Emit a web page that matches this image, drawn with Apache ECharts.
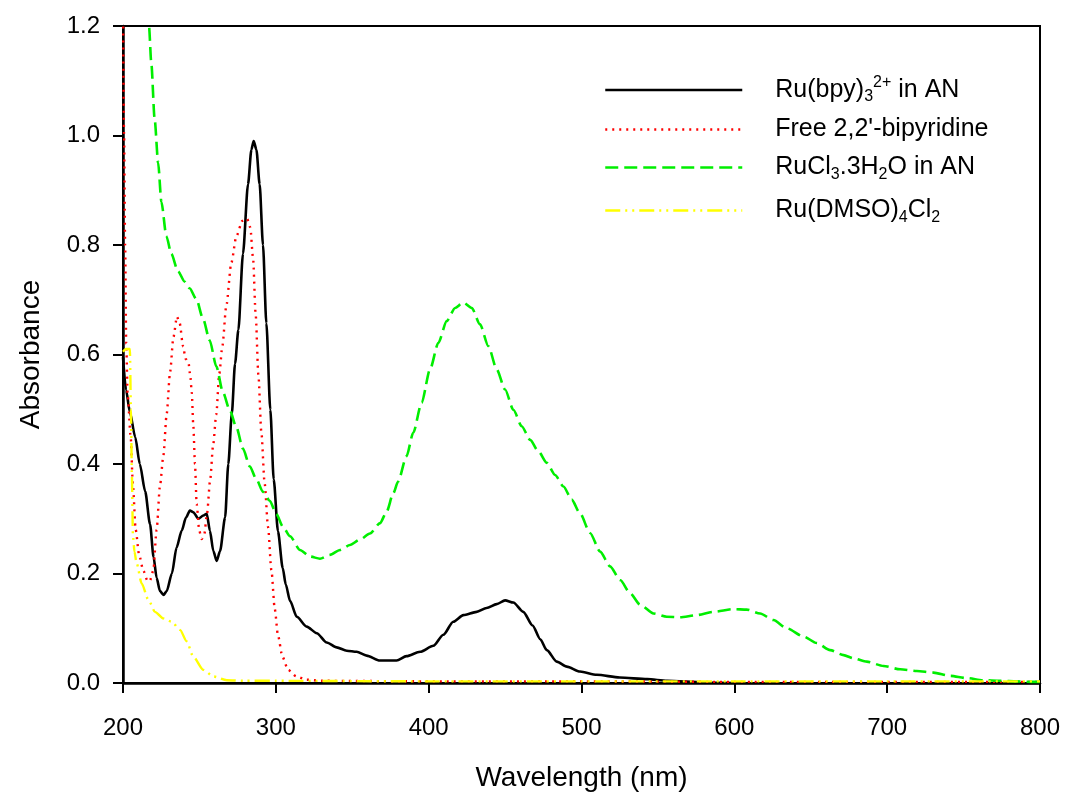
<!DOCTYPE html>
<html>
<head>
<meta charset="utf-8">
<script src="https://cdn.jsdelivr.net/npm/echarts@6/dist/echarts.min.js"></script>
<style>
  html, body { margin: 0; padding: 0; background: #fff; }
  #chart { width: 1065px; height: 794px; }
</style>
</head>
<body>
<div id="chart"></div>
<script>
// ---- Data ----
const seriesNames = ["Ru(bpy)3 2+ in AN", "Free 2,2'-bipyridine", "RuCl3.3H2O in AN", "Ru(DMSO)4Cl2"];
const legendLabels = [
  "{n|Ru(bpy)}{sub|3}{sup|2+}{n| in AN}",
  "{n|Free 2,2'-bipyridine}",
  "{n|RuCl}{sub|3}{n|.3H}{sub|2}{n|O in AN}",
  "{n|Ru(DMSO)}{sub|4}{n|Cl}{sub|2}"
];
const seriesColors = ["#000000", "#ff0000", "#00ee00", "#ffff00"];

// Ru(bpy)3 2+ in AN
const wlBpyComplex = [200,202,204.5,208,211,214.5,217.7,220,222,224.2,226.5,228.6,232,235,238.4,241.2,243.8,246,249.3,252.6,254.8,256.9,259.1,261.3,263.5,266.8,268.9,271.2,273.3,275.5,278.5,281.8,284,285.5,287.3,289.4,291.6,293.8,296.4,298.6,301.4,304.5,306.5,309.3,313.7,320.2,326.8,333.3,339.8,346.4,352.9,359.4,368.1,379,385.5,394.4,403.1,409.6,416.1,422.7,431.4,437.9,444.5,450,455.4,461.9,468,473,477.3,483.8,490.4,499,510,525,543,556,580,620,700,800];
const absBpyComplex = [0.595,0.535,0.495,0.449,0.40,0.35,0.29,0.23,0.192,0.168,0.161,0.168,0.20,0.247,0.278,0.302,0.315,0.312,0.300,0.306,0.309,0.278,0.241,0.223,0.241,0.302,0.40,0.492,0.583,0.645,0.784,0.911,0.974,0.99,0.974,0.911,0.80,0.657,0.499,0.372,0.277,0.21,0.180,0.150,0.121,0.103,0.091,0.074,0.065,0.059,0.057,0.050,0.041,0.041,0.049,0.057,0.068,0.088,0.112,0.124,0.130,0.137,0.144,0.151,0.147,0.130,0.105,0.080,0.060,0.039,0.030,0.021,0.015,0.010,0.007,0.004,0.001,-0.001,-0.002,-0.002];

// Free 2,2'-bipyridine
const wlBipyridine = [200,200.7,201.4,202.1,203,205,206.5,208.3,210.5,213.3,216,217.5,219.8,222,224.2,226.4,228.6,230.8,233,235.3,237.1,239.3,241,242.8,244,245,246,247.1,248.2,249.9,251.5,253.2,255,257,259,261,263,265,267.6,270.9,274.2,278.1,281.2,283.3,285.1,286.8,288.6,290.5,292.7,294.9,297.1,299.3,301.4,304.3,308,313.4,320,330,400,500,600,700,800];
const absBipyridine = [1.25,1.0,0.8,0.62,0.53,0.45,0.36,0.28,0.235,0.205,0.187,0.186,0.205,0.28,0.36,0.415,0.492,0.568,0.632,0.669,0.657,0.615,0.592,0.586,0.562,0.53,0.47,0.40,0.327,0.278,0.263,0.272,0.31,0.37,0.435,0.49,0.565,0.615,0.689,0.768,0.816,0.844,0.848,0.832,0.776,0.673,0.562,0.459,0.364,0.285,0.206,0.135,0.087,0.048,0.024,0.012,0.006,0.004,0.003,0.003,0.002,0.002,0.002];

// RuCl3.3H2O in AN
const wlRuCl3 = [214,217,218.5,220.7,223,225.1,228.4,231.6,236,240.4,243.6,248,252.4,256.7,261.1,265.4,269.8,274.2,278.5,282.9,287.3,291.6,296,300.3,304.7,309.3,315.8,322.4,328.9,335.4,342,348.5,355.1,361.6,368.2,372.5,376.9,380,385.5,389.9,395.4,400.9,406.3,411.8,417.3,422.7,428.2,433.6,439.1,444.5,450,455.4,460.9,466.4,471.8,477.3,482.7,488.2,493.6,499,505.6,512.2,518.7,525.3,531.8,538.4,547.1,555.8,564.5,575.4,586.3,599.4,608.1,616.9,625.6,634.3,645.2,653.9,662.7,671.5,678,686.7,697.6,708.5,719.4,730.3,741.2,752.1,763,774,785,796,800];
const absRuCl3 = [1.30,1.2,1.133,1.03,0.95,0.879,0.816,0.784,0.752,0.733,0.721,0.701,0.665,0.626,0.578,0.531,0.499,0.467,0.428,0.396,0.372,0.349,0.333,0.309,0.285,0.268,0.243,0.231,0.227,0.234,0.243,0.252,0.262,0.273,0.292,0.313,0.347,0.368,0.414,0.457,0.512,0.573,0.621,0.661,0.685,0.695,0.685,0.655,0.615,0.573,0.536,0.499,0.469,0.444,0.423,0.402,0.380,0.359,0.335,0.310,0.274,0.240,0.213,0.188,0.164,0.143,0.127,0.121,0.120,0.124,0.130,0.135,0.134,0.127,0.115,0.100,0.085,0.073,0.060,0.051,0.045,0.039,0.031,0.025,0.022,0.019,0.013,0.009,0.005,0.004,0.003,0.002,0.002];

// Ru(DMSO)4Cl2
const wlRuDmso = [200,202,204.5,205.2,205.8,206.5,207.5,208.9,212.2,216.6,220.9,226.4,231.9,237.3,241.7,246,252.6,259.1,267.9,278.7,300,400,500,600,700,800];
const absRuDmso = [0.605,0.61,0.61,0.5,0.38,0.27,0.24,0.219,0.182,0.152,0.130,0.118,0.112,0.097,0.076,0.048,0.024,0.012,0.005,0.004,0.004,0.003,0.003,0.003,0.003,0.003];

const xTicks = { min: 200, max: 800, step: 100 };
const yTicks = { min: 0, max: 1.2, step: 0.2 };

// ---- Build chart ----
function zip(xs, ys) {
  const n = Math.min(xs.length, ys.length);
  const out = [];
  for (let i = 0; i < n; i++) out.push([xs[i], ys[i]]);
  return out;
}
const FONT = "'Liberation Sans', Arial, sans-serif";
const lineTypes = ['solid', [2, 5], [13, 6], [15, 5, 2, 5, 2, 5]];
const allData = [
  zip(wlBpyComplex, absBpyComplex),
  zip(wlBipyridine, absBipyridine),
  zip(wlRuCl3, absRuCl3),
  zip(wlRuDmso, absRuDmso)
];
const widths = [2.6, 2.4, 2.6, 2.4];

const series = seriesNames.map((name, i) => ({
  name: name,
  type: 'line',
  data: allData[i],
  symbol: 'none',
  smooth: 0.25,
  smoothMonotone: 'x',
  clip: true,
  color: seriesColors[i],
  lineStyle: { color: seriesColors[i], width: widths[i], type: lineTypes[i] },
  z: 2 + i
}));

const legendLineY = [90, 132, 170, 213];
const rich = {
  n: { fontSize: 25, fontFamily: FONT, color: '#000', lineHeight: 30 },
  sub: { fontSize: 16, fontFamily: FONT, color: '#000', lineHeight: 16, verticalAlign: 'bottom' },
  sup: { fontSize: 16, fontFamily: FONT, color: '#000', lineHeight: 16, verticalAlign: 'top' }
};
const legends = seriesNames.map((name, i) => ({
  data: [name],
  left: 604,
  top: legendLineY[i] - 15,
  padding: 0,
  orient: 'vertical',
  itemWidth: 137,
  itemHeight: 14,
  selectedMode: false,
  itemStyle: { opacity: 0 },
  lineStyle: { width: 2.5 },
  formatter: () => legendLabels[i],
  textStyle: { fontSize: 25, fontFamily: FONT, color: '#000', padding: [0, 0, 0, 28], rich: rich }
}));

const chart = echarts.init(document.getElementById('chart'), null, { renderer: 'canvas' });
chart.setOption({
  animation: false,
  backgroundColor: '#fff',
  grid: { left: 123, right: 25, top: 26, bottom: 111, show: true, borderColor: '#000', borderWidth: 2, containLabel: false, outerBoundsMode: 'none' },
  legend: legends,
  xAxis: {
    type: 'value', min: xTicks.min, max: xTicks.max, interval: xTicks.step,
    name: 'Wavelength (nm)', nameLocation: 'middle', nameGap: 81,
    nameTextStyle: { fontSize: 28, fontFamily: FONT, color: '#000' },
    axisLine: { show: true, onZero: false, lineStyle: { color: '#000', width: 2.5 } },
    axisTick: { show: true, inside: false, length: 10, lineStyle: { color: '#000', width: 2 } },
    axisLabel: { fontSize: 24, fontFamily: FONT, color: '#000', margin: 33 },
    splitLine: { show: false }
  },
  yAxis: {
    type: 'value', min: yTicks.min, max: yTicks.max, interval: yTicks.step,
    name: 'Absorbance', nameLocation: 'middle', nameGap: 78,
    nameTextStyle: { fontSize: 28, fontFamily: FONT, color: '#000' },
    axisLine: { show: true, onZero: false, lineStyle: { color: '#000', width: 2.5 } },
    axisTick: { show: true, inside: false, length: 10, lineStyle: { color: '#000', width: 2 } },
    axisLabel: { fontSize: 24, fontFamily: FONT, color: '#000', margin: 23, formatter: v => v.toFixed(1) },
    splitLine: { show: false }
  },
  series: series
});
</script>
</body>
</html>
